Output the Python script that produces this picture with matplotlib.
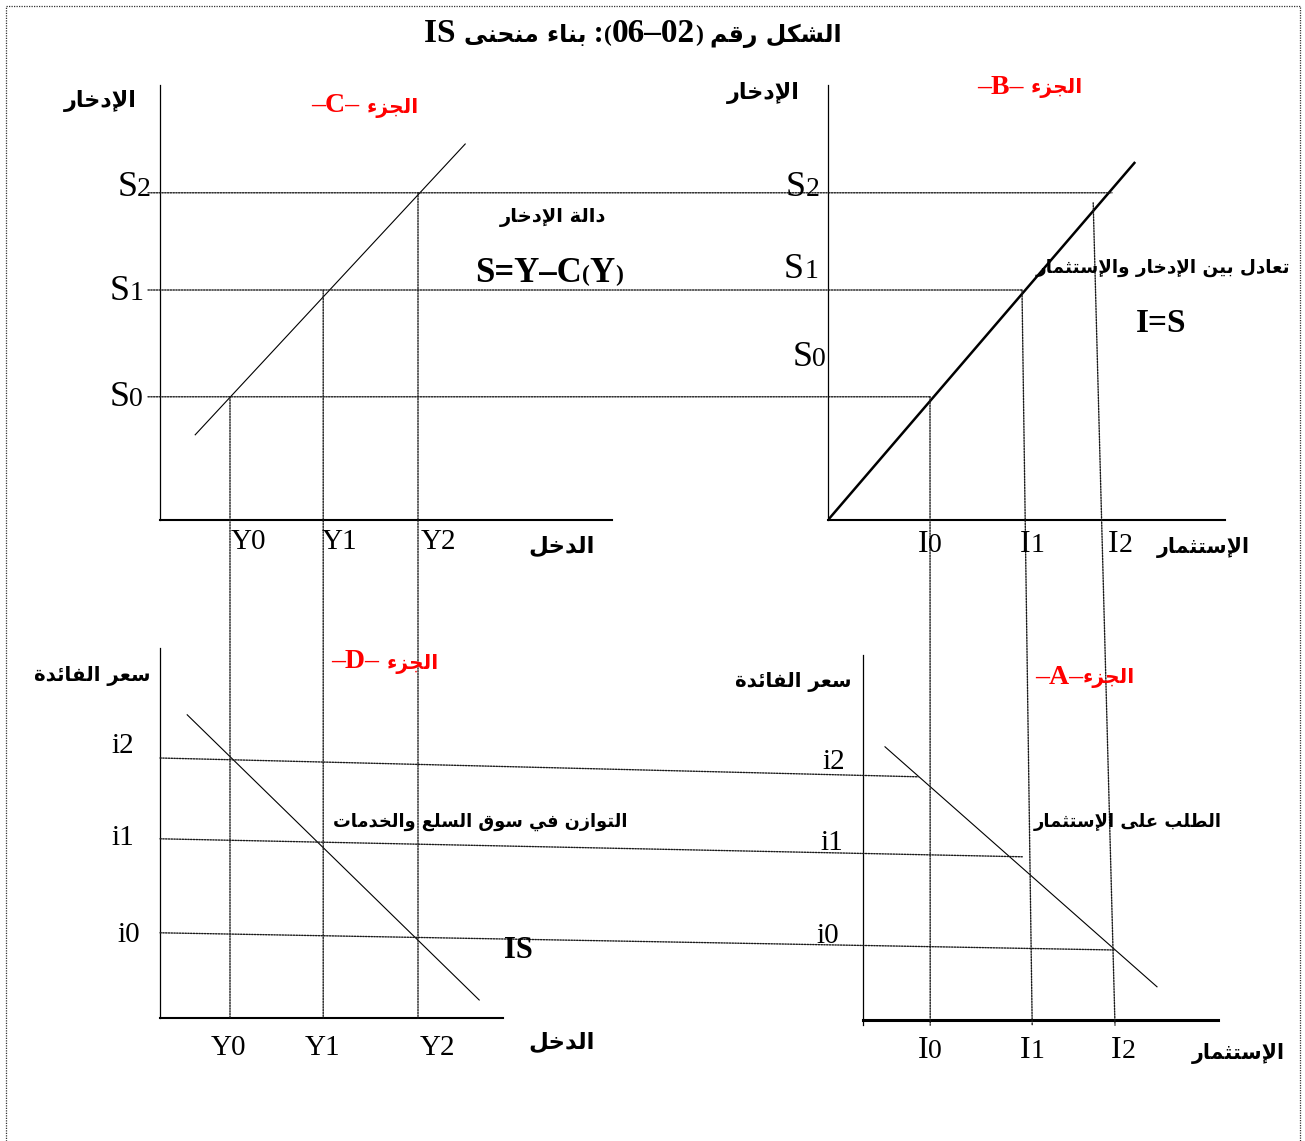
import matplotlib
matplotlib.use("Agg")
import matplotlib.pyplot as plt
from matplotlib.patches import ConnectionPatch
from matplotlib.lines import Line2D
from matplotlib.offsetbox import TextArea, HPacker, AnnotationBbox

# ---------------------------------------------------------------------------
# Arabic shaping (contextual forms + lam-alef ligatures, visual order)
# ---------------------------------------------------------------------------
AR_FORMS = {
    'ء': (0xFE80, 1), 'آ': (0xFE81, 2), 'أ': (0xFE83, 2), 'ؤ': (0xFE85, 2),
    'إ': (0xFE87, 2), 'ئ': (0xFE89, 4), 'ا': (0xFE8D, 2), 'ب': (0xFE8F, 4),
    'ة': (0xFE93, 2), 'ت': (0xFE95, 4), 'ث': (0xFE99, 4), 'ج': (0xFE9D, 4),
    'ح': (0xFEA1, 4), 'خ': (0xFEA5, 4), 'د': (0xFEA9, 2), 'ذ': (0xFEAB, 2),
    'ر': (0xFEAD, 2), 'ز': (0xFEAF, 2), 'س': (0xFEB1, 4), 'ش': (0xFEB5, 4),
    'ص': (0xFEB9, 4), 'ض': (0xFEBD, 4), 'ط': (0xFEC1, 4), 'ظ': (0xFEC5, 4),
    'ع': (0xFEC9, 4), 'غ': (0xFECD, 4), 'ف': (0xFED1, 4), 'ق': (0xFED5, 4),
    'ك': (0xFED9, 4), 'ل': (0xFEDD, 4), 'م': (0xFEE1, 4), 'ن': (0xFEE5, 4),
    'ه': (0xFEE9, 4), 'و': (0xFEED, 2), 'ى': (0xFEEF, 2), 'ي': (0xFEF1, 4),
}
LAM_ALEF = {'آ': 0xFEF5, 'أ': 0xFEF7, 'إ': 0xFEF9, 'ا': 0xFEFB}


def ar(text):
    """Return Arabic text shaped and in left-to-right visual order."""
    units, i = [], 0
    while i < len(text):
        c = text[i]
        if c == 'ل' and i + 1 < len(text) and text[i + 1] in LAM_ALEF:
            units.append(('LA', LAM_ALEF[text[i + 1]]))
            i += 2
        else:
            units.append(('C', c))
            i += 1

    def joins_next(u):
        return u[0] == 'C' and u[1] in AR_FORMS and AR_FORMS[u[1]][1] == 4

    def joining(u):
        return u[0] == 'LA' or (u[1] in AR_FORMS and AR_FORMS[u[1]][1] > 1)

    out = []
    for k, u in enumerate(units):
        prev = units[k - 1] if k > 0 else None
        nxt = units[k + 1] if k + 1 < len(units) else None
        jp = prev is not None and joins_next(prev) and joining(u)
        if u[0] == 'LA':
            out.append(chr(u[1] + (1 if jp else 0)))
            continue
        c = u[1]
        if c not in AR_FORMS:
            out.append(c)
            continue
        base, n = AR_FORMS[c]
        jn = n == 4 and nxt is not None and joining(nxt)
        form = 3 if (jp and jn) else 1 if jp else 2 if jn else 0
        out.append(chr(base + form))
    return ''.join(reversed(out))


# ---------------------------------------------------------------------------
# Data (abstract units measured from each panel's origin)
# ---------------------------------------------------------------------------
# Part C: saving function S = Y - C(Y)
Y_levels = [1.75, 4.08, 6.45]          # Y0, Y1, Y2
S_levels = [3.08, 5.75, 8.18]          # S0, S1, S2
saving_Y = [0.88, 7.63]
saving_S = [2.13, 9.40]

# Part B: equilibrium I = S
IS45_I = [0.0, 7.68]
IS45_S = [0.0, 8.95]
S_end_B = [2.55, 4.85, 7.10]           # where the S-level guides stop in B
I_levels_B = [2.55, 4.85, 6.63]        # I0, I1, I2 read in part B
I_top_B = [3.08, 5.75, 7.93]           # heights where the I guides start

# Part A: investment demand
I_levels_A = [1.68, 4.23, 6.30]        # I0, I1, I2 read in part A
invest_I = [0.55, 7.35]
invest_i = [6.83, 0.83]
i_end_A_I = [1.38, 4.00, 6.30]         # where the interest guides stop in A
i_end_A_i = [6.08, 4.08, 1.75]

# Part D: IS curve
i_levels_D = [6.50, 4.48, 2.13]        # i2, i1, i0
IScurve_Y = [0.68, 7.98]
IScurve_i = [7.58, 0.45]

S_names = ["S0", "S1", "S2"]
Y_names = ["Y0", "Y1", "Y2"]
I_names = ["I0", "I1", "I2"]
i_names = ["i2", "i1", "i0"]

# ---------------------------------------------------------------------------
W, H = 1305, 1141
UNIT = 40.0
fig = plt.figure(figsize=(W / 100, H / 100), dpi=100)
fig.patch.set_facecolor("white")


def panel(ox, oy, w, h, lw_left=0.9, lw_bottom=1.5, ybelow=0.0):
    ax = fig.add_axes([ox / W, (H - oy - ybelow * UNIT) / H, w / W,
                       (h + ybelow * UNIT) / H])
    ax.set_xlim(0, w / UNIT)
    ax.set_ylim(-ybelow, h / UNIT)
    ax.patch.set_visible(False)
    for side in ("top", "right"):
        ax.spines[side].set_visible(False)
    ax.spines["left"].set_linewidth(lw_left)
    ax.spines["bottom"].set_linewidth(lw_bottom)
    ax.spines["bottom"].set_position(("data", 0))
    ax.set_xticks([])
    ax.set_yticks([])
    return ax


axC = panel(160, 520, 452, 435)
axB = panel(828, 520, 397, 435)
axD = panel(160, 1018, 343, 370)
axA = panel(863, 1020, 355, 365, lw_bottom=2.2, ybelow=0.13)

axC.plot(saving_Y, saving_S, color="black", lw=0.8)
axB.plot(IS45_I, IS45_S, color="black", lw=1.8, solid_capstyle="butt")
axA.plot(invest_I, invest_i, color="black", lw=0.8)
axD.plot(IScurve_Y, IScurve_i, color="black", lw=0.8)

GUIDE = dict(linestyle=(0, (1.0, 1.0)), lw=1.0, color="#1a1a1a")


def guide(a, axa, b, axb):
    con = ConnectionPatch(xyA=a, coordsA=axa.transData, xyB=b,
                          coordsB=axb.transData, **GUIDE)
    fig.add_artist(con)


for y, s in zip(Y_levels, S_levels):
    guide((y, s), axC, (y, 0), axD)
for s, xe in zip(S_levels, S_end_B):
    guide((-0.3, s), axC, (xe, s), axB)
for ib, st, ia in zip(I_levels_B, I_top_B, I_levels_A):
    guide((ib, st), axB, (ia, -0.13), axA)
for iv, xe, ye in zip(i_levels_D, i_end_A_I, i_end_A_i):
    guide((0, iv), axD, (xe, ye), axA)

# ---------------------------------------------------------------------------
# Text
# ---------------------------------------------------------------------------
AR_B = dict(family="DejaVu Sans", fontweight="bold", color="black")
SER = dict(family="Liberation Serif", color="black")
SER_B = dict(family="Liberation Serif", fontweight="bold", color="black")
RED = "#ff0000"


def put(parts, x, y, ha="center"):
    boxes = [TextArea(s, textprops=p) for s, p in parts]
    pack = HPacker(children=boxes, align="baseline", pad=0, sep=0)
    hx = {"center": 0.5, "left": 0.0, "right": 1.0}[ha]
    ab = AnnotationBbox(pack, (x / W, 1 - y / H), xycoords="figure fraction",
                        frameon=False, box_alignment=(hx, 0.5), pad=0)
    fig.add_artist(ab)


def p(d, **kw):
    q = dict(d)
    q.update(kw)
    return q


# title
put([("IS ", p(SER_B, fontsize=24)),
     (ar("بناء منحنى"), p(AR_B, fontsize=17)),
     (" :", p(SER_B, fontsize=22)),
     ("(", p(SER_B, fontsize=17)), ("06–02", p(SER_B, fontsize=24)),
     (")", p(SER_B, fontsize=17)), (" ", p(SER_B, fontsize=22)),
     (ar("الشكل رقم"), p(AR_B, fontsize=17))], 633, 33)

# part labels
for letter, sep, x, y in [("C", " ", 365, 106), ("B", " ", 1030, 87),
                          ("D", " ", 385, 662), ("A", "", 1085, 677)]:
    put([("–" + letter + "–" + sep, p(SER_B, fontsize=20, color=RED)),
         (ar("الجزء"), p(AR_B, fontsize=14.5, color=RED))], x, y)

# axis titles
put([(ar("الإدخار"), p(AR_B, fontsize=16))], 100, 101)
put([(ar("الإدخار"), p(AR_B, fontsize=16))], 763, 93)
put([(ar("الدخل"), p(AR_B, fontsize=16.5))], 562, 546)
put([(ar("الدخل"), p(AR_B, fontsize=16.5))], 562, 1042)
put([(ar("الإستثمار"), p(AR_B, fontsize=14.8))], 1203, 548)
put([(ar("الإستثمار"), p(AR_B, fontsize=14.8))], 1238, 1054)
put([(ar("سعر الفائدة"), p(AR_B, fontsize=14.2))], 92, 676)
put([(ar("سعر الفائدة"), p(AR_B, fontsize=14.2))], 793, 682)

# curve descriptions
put([(ar("دالة الإدخار"), p(AR_B, fontsize=14))], 553, 217)
put([("S=Y–C", p(SER_B, fontsize=25)), ("(", p(SER_B, fontsize=17)),
     ("Y", p(SER_B, fontsize=25)), (")", p(SER_B, fontsize=17))], 549, 273)
put([(ar("تعادل بين الإدخار والإستثمار"), p(AR_B, fontsize=13.2))], 1163, 268)
put([("I=S", p(SER_B, fontsize=24))], 1161, 323)
put([(ar("التوازن في سوق السلع والخدمات"), p(AR_B, fontsize=12.8))], 480, 822)
put([("IS", p(SER_B, fontsize=22))], 518, 950)
put([(ar("الطلب على الإستثمار"), p(AR_B, fontsize=12.9))], 1128, 822)


def sub_label(name, x, y, big=26, small=20, ha="center"):
    put([(name[0], p(SER, fontsize=big)), (name[1:], p(SER, fontsize=small))],
        x, y, ha=ha)


# S levels
for name, (x, y) in zip(S_names, [(143, 398), (143, 291), (151, 187)]):
    sub_label(name, x, y, ha="right")
for name, (x, y) in zip(S_names, [(826, 358), (818, 270), (820, 187)]):
    sub_label(name, x, y, ha="right")
# income levels
for name, x in zip(Y_names, [248, 340, 438]):
    put([(name, p(SER, fontsize=21))], x, 542)
for name, x in zip(Y_names, [228, 323, 437]):
    put([(name, p(SER, fontsize=21))], x, 1048)
# investment levels
for name, x in zip(I_names, [930, 1032, 1120]):
    sub_label(name, x, 545, big=23, small=20)
for name, x in zip(I_names, [930, 1032, 1123]):
    sub_label(name, x, 1051, big=23, small=20)
# interest rates
for name, (x, y) in zip(i_names, [(123, 746), (123, 838), (129, 935)]):
    put([(name, p(SER, fontsize=21))], x, y)
for name, (x, y) in zip(i_names, [(834, 762), (832, 843), (828, 936)]):
    put([(name, p(SER, fontsize=21))], x, y)

# dotted page frame
fx = [6 / W, 6 / W, 1300 / W, 1300 / W]
fy = [0, 1 - 6 / H, 1 - 6 / H, 0]
fig.add_artist(Line2D(fx, fy, transform=fig.transFigure, color="#333333",
                      lw=0.9, linestyle=(0, (1.0, 1.0))))

fig.savefig("out.png", dpi=100, facecolor="white")
